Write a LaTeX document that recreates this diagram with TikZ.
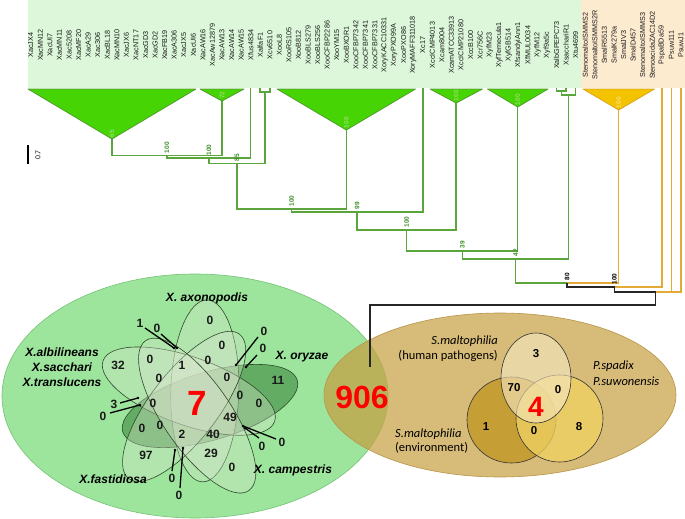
\documentclass[tikz,border=0pt]{standalone}
\usepackage{fontspec}
\setmainfont{Liberation Sans}
\newfontfamily\carl{Carlito}
\definecolor{stripG}{HTML}{DCF7DA}
\definecolor{stripB}{HTML}{FDEBD0}
\definecolor{triG}{HTML}{47D405}
\definecolor{triGl}{HTML}{4E9F2C}
\definecolor{brG}{HTML}{5AA63C}
\definecolor{brO}{HTML}{E3AA35}
\definecolor{triO}{HTML}{F3C300}
\definecolor{triOl}{HTML}{DBA620}
\definecolor{supG}{HTML}{3F8F28}
\definecolor{inG}{HTML}{93DE66}
\definecolor{inO}{HTML}{F8DC80}
\definecolor{bigG}{HTML}{9DE49D}
\definecolor{bigGl}{HTML}{74C274}
\definecolor{tanF}{HTML}{C69E3E}
\definecolor{tanL}{HTML}{B89548}
\definecolor{petF}{HTML}{DCE6CF}
\definecolor{petD}{HTML}{357F35}
\definecolor{venL}{HTML}{2E4A2A}
\definecolor{cEnv}{HTML}{C39A2C}
\definecolor{cPsp}{HTML}{F1D262}
\definecolor{cHum}{HTML}{F6E8C4}
\definecolor{redN}{HTML}{FF0000}
\begin{document}
\begin{tikzpicture}[x=1pt,y=-1pt,
 leaf/.style={rotate=90, inner sep=0pt, font=\fontsize{7.2}{8}\selectfont, text=black!90},
 tri/.style={fill=triG, draw=triGl, line width=0.8pt, line join=round},
 trio/.style={fill=triO, draw=triOl, line width=0.8pt, line join=round},
 gbr/.style={draw=brG, line width=1.5pt},
 obr/.style={draw=brO, line width=1.5pt},
 kbr/.style={draw=black!85, line width=1.5pt},
 sup/.style={rotate=90, anchor=west, inner sep=0.3pt, font=\fontsize{6.5}{7}\selectfont\bfseries, text=supG},
 supk/.style={sup, text=black},
 insup/.style={sup, text=inG},
 insupo/.style={sup, text=inO},
 petal/.style={draw=venL, line width=0.6pt, fill=petF, fill opacity=0.35},
 vnum/.style={font=\fontsize{12}{12}\selectfont\bfseries, inner sep=0pt, text=black!90},
 vlab/.style={font=\fontsize{12}{13}\selectfont\bfseries\itshape, inner sep=0pt},
 leadln/.style={draw=black, line width=1.3pt},
 ldot/.style={fill=black, draw=none},
 cnum/.style={font=\fontsize{11.5}{12}\selectfont\bfseries, inner sep=0pt},
 clab/.style={font=\carl\fontsize{12.5}{14}\selectfont, inner sep=0pt},
 bignum/.style={text=redN, inner sep=0pt},
 circ/.style={draw=black!80, line width=0.6pt}
]
\useasboundingbox (0,0) rectangle (685,519);

% ---------- label strips ----------
\fill[stripG] (28,0) rectangle (580.5,88);
\fill[stripB] (580.5,0) rectangle (685,88);
\def\taxa{XacJX4,XacMN12,XacUI7,XacMN11,Xac5208,XacMF20,XacA29,Xac306,XacBL18,XacMN10,XacJX6,XacNT17,XacGD3,XacGD2,XacFB19,XacA306,XacJX5,XacUI6,XacAW16,XacAw12879,XacAW13,XacAW14,XacAW15,Xfus4834,XalfaF1,Xcv6510,XooL8,XooRS105,XooB812,XooBLS279,XooBLS256,XooCFBP2286,XooYM15,XooBXOR1,XooCFBP7342,XooCFBP7341,XooCFBP7331,XoryKACC10331,XoryPXO99A,XooPXO86,XoryMAFF311018,Xc17,XccICMP4013,Xcam8004,XcamATCC33913,XccICMP21080,XccB100,Xcr756C,XyfM23,XyfTemecula1,XyfGB514,XfsandyiAnn1,XfMUL0034,XyfM12,Xyf9a5c,XalbGPEPC73,XsacchariR1,Xtu4699,StenomaltoISMMS2,StenomaltoISMMS2R,SmalR5513,SmalK279a,SmalJV3,SmalD457,StenomaltoISMMS3,StenoacidaZAC14D2,PspaBDa59,Psuw111,PsuwJ1}
\foreach \t [count=\i from 0] in \taxa {
  \node[leaf] (l\i) at ({30.8+9.56*\i},45) {\t};
  \coordinate (t\i) at ({30.8+9.56*\i},88);
}

% ---------- bottom: big ellipses ----------
\draw[fill=bigG, draw=bigGl, line width=0.6pt] (195,396) ellipse [x radius=193, y radius=122];
\draw[fill=tanF, fill opacity=0.7, draw=tanL, line width=0.6pt] (500,395) ellipse [x radius=176, y radius=82];

% ---------- 5-set Venn ----------
\begin{scope}[shift={(197,402)}]
 \draw[petal, fill=petD, fill opacity=0.55, rotate around={16.5:(13,4)}] (13,4) ellipse [x radius=91, y radius=34];
 \foreach \k in {1,2,3,4} {
   \begin{scope}[rotate=72*\k]
     \draw[petal, rotate around={16.5:(13,4)}] (13,4) ellipse [x radius=91, y radius=34];
   \end{scope}
 }
\end{scope}

\node[vnum] (v1) at (210,320) {0};
\node[vnum] (v2) at (222,345) {0};
\node[vnum] (v3) at (150,359) {0};
\node[vnum] (v4) at (182,365) {1};
\node[vnum] (v5) at (208,360) {0};
\node[vnum] (v6) at (159,378) {0};
\node[vnum] (v7) at (227,377) {0};
\node[vnum] (v8) at (118,365) {32};
\node[vnum] (v9) at (153,403) {0};
\node[vnum] (v10) at (240,395) {0};
\node[vnum] (v11) at (259,403) {0};
\node[vnum] (v12) at (230,417) {49};
\node[vnum] (v13) at (142,428) {0};
\node[vnum] (v14) at (160,425) {0};
\node[vnum] (v15) at (182,434) {2};
\node[vnum] (v16) at (213,434) {40};
\node[vnum] (v17) at (146,455) {97};
\node[vnum] (v18) at (211,453) {29};
\node[vnum] (v19) at (232,467) {0};
\node[vnum] (v20) at (278,380) {11};
\node[bignum, font=\fontsize{35}{35}\selectfont\bfseries] (seven) at (197,403) {7};

% leader labels
\node[vnum] (p1) at (140,323) {1};
\node[vnum] (p2) at (157,328) {0};
\node[vnum] (p3) at (264,331) {0};
\node[vnum] (p4) at (263,348) {0};
\node[vnum] (p5) at (114,404) {3};
\node[vnum] (p6) at (103,416) {0};
\node[vnum] (p7) at (282,442) {0};
\node[vnum] (p8) at (262,446) {0};
\node[vnum] (p9) at (172,478) {0};
\node[vnum] (p10) at (179,495) {0};
\foreach \n/\sx/\sy/\ex/\ey in {1/145/328/174/348, 2/161/334/177/348, 3/258/337/236/365, 4/257/355/246/367, 5/120/403/138/398, 6/110/413/140/405, 7/276/439/243/426, 8/259/438/245/428, 9/172/471/175/450, 10/180/488/183/448} {
  \coordinate (ps\n) at (\sx,\sy);
  \coordinate (pe\n) at (\ex,\ey);
  \draw[leadln] (ps\n) -- (pe\n);
  \fill[ldot] (pe\n) circle [radius=1.4];
}

\node[vlab] (xax) at (207,298) {X. axonopodis};
\node[vlab] (xor) at (302,357) {X. oryzae};
\node[vlab] (xca) at (293,470) {X. campestris};
\node[vlab] (xfa) at (113,479) {X.fastidiosa};
\node[vlab, align=center, font=\fontsize{12}{15}\selectfont\bfseries\itshape] (xal) at (62,367) {X.albilineans\\X.sacchari\\X.translucens};

% ---------- 3-set Venn ----------
\draw[circ, fill=cEnv, fill opacity=0.85] (511.5,420) ellipse [x radius=44.5, y radius=43];
\draw[circ, fill=cPsp, fill opacity=0.75] (559.5,418.5) circle [radius=43.5];
\draw[circ, fill=cHum, fill opacity=0.6] (536,378) ellipse [x radius=35, y radius=45];
\node[cnum] (c1) at (536,354) {3};
\node[cnum] (c2) at (514,388) {70};
\node[cnum] (c3) at (558,390) {0};
\node[cnum] (c4) at (486,427) {1};
\node[cnum] (c5) at (534,431) {0};
\node[cnum] (c6) at (579,427) {8};
\node[bignum, font=\fontsize{28}{28}\selectfont\bfseries] (four) at (536,407) {4};
\node[clab, anchor=east] (h1) at (498,341) {\itshape S.maltophilia};
\node[clab, anchor=east] (h2) at (498,356) {(human pathogens)};
\node[clab, anchor=west] (ps1) at (593,366) {\itshape P.spadix};
\node[clab, anchor=west] (ps2) at (593,381) {\itshape P.suwonensis};
\node[clab, anchor=west] (e1) at (395,434) {\itshape S.maltophilia};
\node[clab, anchor=west] (e2) at (395,448) {(environment)};
\node[bignum, font=\fontsize{32}{32}\selectfont\bfseries] (n906) at (362,397) {906};

% ---------- tree ----------
\coordinate (a1) at (112,139);
\coordinate (a2) at (222,101);
\coordinate (a3) at (346.3,130);
\coordinate (a4) at (456.2,103);
\coordinate (a5) at (517.7,107);
\coordinate (a6) at (618.7,110);
\draw[tri] (28,89) -- (196,89) -- (a1) -- cycle;
\draw[tri] (200,89) -- (244,89) -- (a2) -- cycle;
\draw[tri] (277,89) -- (415.5,89) -- (a3) -- cycle;
\draw[tri] (430,89) -- (482.5,89) -- (a4) -- cycle;
\draw[tri] (487.5,89) -- (548,89) -- (a5) -- cycle;
\draw[trio] (583,89) -- (654.5,89) -- (a6) -- cycle;

\coordinate (A) at (167,155.5);
\coordinate (B) at (208.9,158);
\coordinate (XX) at (265,92);
\coordinate (C) at (237,163.5);
\coordinate (D) at (291.6,209);
\coordinate (E) at (357.2,212);
\coordinate (N1) at (406.7,230);
\coordinate (N2) at (462.5,251);
\coordinate (S1) at (561.4,91);
\coordinate (S2) at (568.5,95);
\coordinate (N3) at (515.5,259);
\coordinate (F) at (567.1,283);
\coordinate (G) at (614.5,287);
\coordinate (H) at (655.6,292);
\coordinate (rb) at (655.6,305);
\coordinate (c906) at (370,367);

\draw[gbr] (a1) |- (A);
\draw[gbr] (a2) |- (A);
\draw[gbr] (A) |- (B);
\draw[gbr] (t23) |- (B);
\draw[gbr] (t24) |- (XX);
\draw[gbr] (t25) |- (XX);
\draw[gbr] (B) |- (C);
\draw[gbr] (XX) |- (C);
\draw[gbr] (C) |- (D);
\draw[gbr] (a3) |- (D);
\draw[gbr] (D) |- (E);
\draw[gbr] (t41) |- (E);
\draw[gbr] (E) |- (N1);
\draw[gbr] (a4) |- (N1);
\draw[gbr] (N1) |- (N2);
\draw[gbr] (a5) |- (N2);
\draw[gbr] (t55) |- (S1);
\draw[gbr] (t56) |- (S1);
\draw[gbr] (S1) |- (S2);
\draw[gbr] (t57) |- (S2);
\draw[gbr] (N2) |- (N3);
\draw[gbr] (S2) |- (N3);
\draw[gbr] (N3) |- (F);
\draw[obr] (a6) |- (F);
\draw[obr] (t66) |- (G);
\draw[obr] (t67) |- (H);
\draw[obr] (t68) |- (H);
\draw[kbr] (F) |- (G);
\draw[kbr] (G) |- (H);
\draw[kbr] (H) -- (rb) -| (c906);

% support values
\node[sup] (sA) at (167,153.5) {100};
\node[sup] (sB) at (208.9,156) {100};
\node[sup] (sC) at (237,161.5) {85};
\node[sup] (sD) at (291.6,207) {100};
\node[sup] (sE) at (357.2,210) {99};
\node[sup] (sN1) at (406.7,228) {100};
\node[sup] (sN2) at (462.5,249) {39};
\node[sup] (sN3) at (515.5,257) {42};
\node[supk] (sF) at (567.1,281) {80};
\node[supk] (sG) at (614.5,285) {100};
\node[insup] (i1) at (112,137.5) {65};
\node[insup] (i2) at (222,99.5) {72};
\node[insup] (i3) at (346.3,128.5) {100};
\node[insup] (i4) at (456.2,101.5) {100};
\node[insup] (i5) at (517.7,105.5) {100};
\node[insupo] (i6) at (618.7,108.5) {100};

% scale bar
\coordinate (sb1) at (28,145);
\coordinate (sb2) at (28,164);
\draw[line width=1.5pt] (sb1) -- (sb2);
\node[rotate=90, inner sep=0pt, font=\fontsize{7}{8}\selectfont] (sbl) at (38,155) {0.7};
\end{tikzpicture}
\end{document}
